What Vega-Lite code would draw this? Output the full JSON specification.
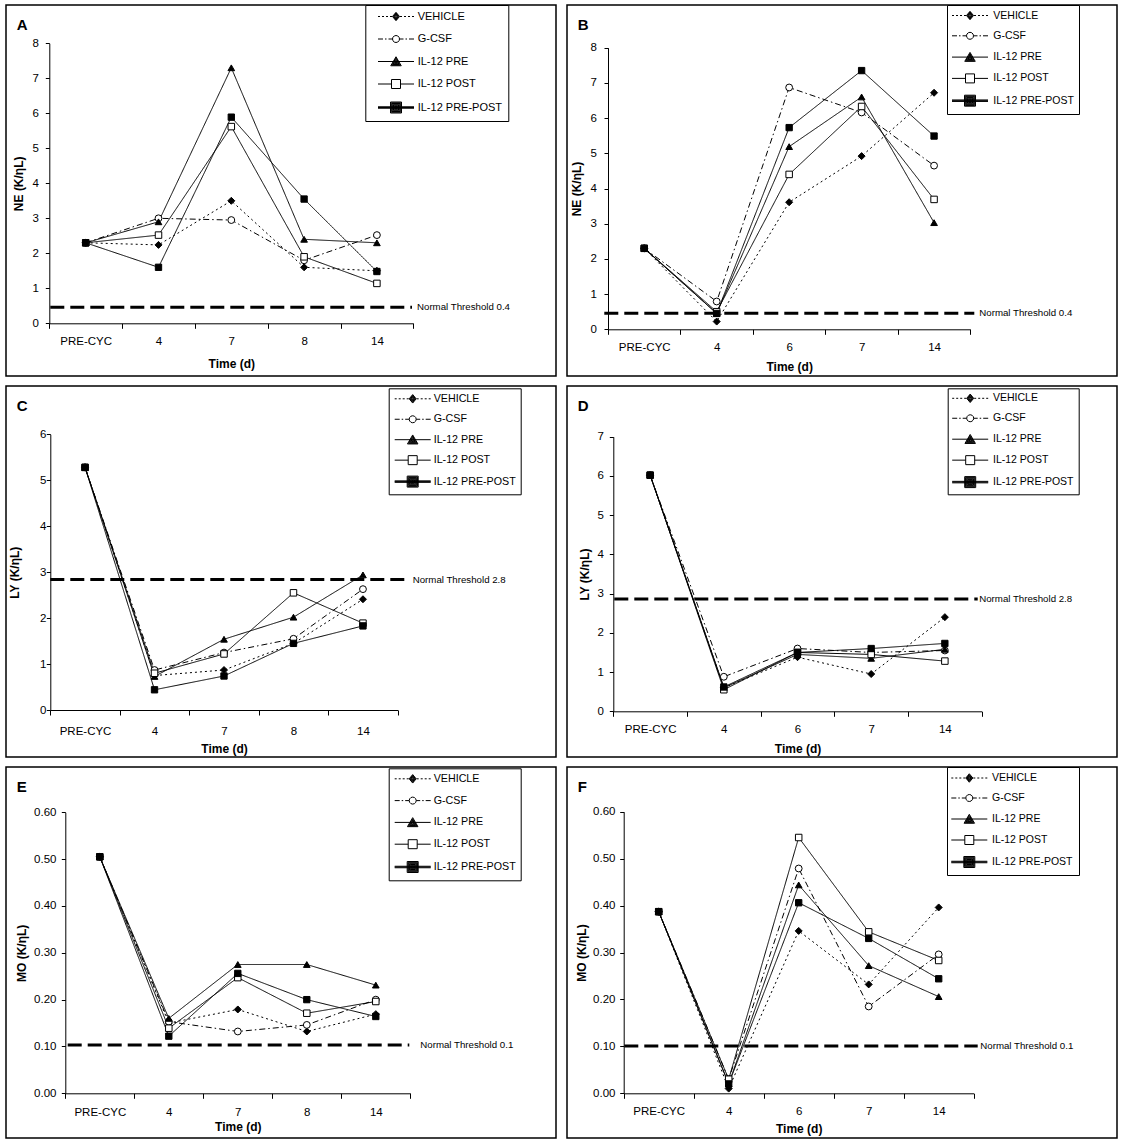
{
  "$schema": "https://vega.github.io/schema/vega-lite/v6.json",
  "background": "white",
  "padding": {"left": 5, "top": 3, "right": 5, "bottom": 5},
  "columns": 2,
  "spacing": {"row": 10, "column": 11},
  "bounds": "flush",
  "config": {
    "font": "Liberation Sans",
    "view": {"stroke": "black", "strokeWidth": 1.5},
    "axis": {"grid": false, "labelFont": "Liberation Sans", "labelFontSize": 11.5, "labelColor": "black", "tickColor": "black", "domainColor": "black", "titleFont": "Liberation Sans", "titleFontSize": 12, "titleFontWeight": "bold", "titleColor": "black", "domainWidth": 1, "tickWidth": 1},
    "legend": {"labelFont": "Liberation Sans", "labelColor": "black", "strokeColor": "black", "fillColor": "white", "symbolSize": 100, "symbolStrokeWidth": 1, "symbolOpacity": 1, "symbolFillColor": "transparent", "symbolStrokeColor": "black", "titleColor": "black"},
    "title": {"font": "Liberation Sans", "fontSize": 15, "fontWeight": "bold", "color": "black"}
  },
  "resolve": {
    "scale": {"strokeDash": "independent", "strokeWidth": "independent", "shape": "independent", "fill": "independent", "size": "independent"},
    "legend": {"strokeDash": "independent", "strokeWidth": "independent", "shape": "independent", "fill": "independent", "size": "independent"}
  },
  "datasets": {
    "A": [
      {"day": "PRE-CYC", "series": "VEHICLE", "value": 2.3}, {"day": "4", "series": "VEHICLE", "value": 2.24}, {"day": "7", "series": "VEHICLE", "value": 3.5}, {"day": "8", "series": "VEHICLE", "value": 1.6}, {"day": "14", "series": "VEHICLE", "value": 1.5},
      {"day": "PRE-CYC", "series": "G-CSF", "value": 2.3}, {"day": "4", "series": "G-CSF", "value": 3.0}, {"day": "7", "series": "G-CSF", "value": 2.95}, {"day": "8", "series": "G-CSF", "value": 1.8}, {"day": "14", "series": "G-CSF", "value": 2.52},
      {"day": "PRE-CYC", "series": "IL-12 PRE", "value": 2.3}, {"day": "4", "series": "IL-12 PRE", "value": 2.9}, {"day": "7", "series": "IL-12 PRE", "value": 7.3}, {"day": "8", "series": "IL-12 PRE", "value": 2.4}, {"day": "14", "series": "IL-12 PRE", "value": 2.3},
      {"day": "PRE-CYC", "series": "IL-12 POST", "value": 2.3}, {"day": "4", "series": "IL-12 POST", "value": 2.52}, {"day": "7", "series": "IL-12 POST", "value": 5.62}, {"day": "8", "series": "IL-12 POST", "value": 1.9}, {"day": "14", "series": "IL-12 POST", "value": 1.14},
      {"day": "PRE-CYC", "series": "IL-12 PRE-POST", "value": 2.3}, {"day": "4", "series": "IL-12 PRE-POST", "value": 1.6}, {"day": "7", "series": "IL-12 PRE-POST", "value": 5.89}, {"day": "8", "series": "IL-12 PRE-POST", "value": 3.55}, {"day": "14", "series": "IL-12 PRE-POST", "value": 1.48}
    ],
    "B": [
      {"day": "PRE-CYC", "series": "VEHICLE", "value": 2.3}, {"day": "4", "series": "VEHICLE", "value": 0.22}, {"day": "6", "series": "VEHICLE", "value": 3.61}, {"day": "7", "series": "VEHICLE", "value": 4.92}, {"day": "14", "series": "VEHICLE", "value": 6.72},
      {"day": "PRE-CYC", "series": "G-CSF", "value": 2.3}, {"day": "4", "series": "G-CSF", "value": 0.79}, {"day": "6", "series": "G-CSF", "value": 6.87}, {"day": "7", "series": "G-CSF", "value": 6.16}, {"day": "14", "series": "G-CSF", "value": 4.65},
      {"day": "PRE-CYC", "series": "IL-12 PRE", "value": 2.3}, {"day": "4", "series": "IL-12 PRE", "value": 0.45}, {"day": "6", "series": "IL-12 PRE", "value": 5.19}, {"day": "7", "series": "IL-12 PRE", "value": 6.6}, {"day": "14", "series": "IL-12 PRE", "value": 3.03},
      {"day": "PRE-CYC", "series": "IL-12 POST", "value": 2.3}, {"day": "4", "series": "IL-12 POST", "value": 0.5}, {"day": "6", "series": "IL-12 POST", "value": 4.4}, {"day": "7", "series": "IL-12 POST", "value": 6.33}, {"day": "14", "series": "IL-12 POST", "value": 3.69},
      {"day": "PRE-CYC", "series": "IL-12 PRE-POST", "value": 2.3}, {"day": "4", "series": "IL-12 PRE-POST", "value": 0.45}, {"day": "6", "series": "IL-12 PRE-POST", "value": 5.73}, {"day": "7", "series": "IL-12 PRE-POST", "value": 7.35}, {"day": "14", "series": "IL-12 PRE-POST", "value": 5.49}
    ],
    "C": [
      {"day": "PRE-CYC", "series": "VEHICLE", "value": 5.28}, {"day": "4", "series": "VEHICLE", "value": 0.75}, {"day": "7", "series": "VEHICLE", "value": 0.87}, {"day": "8", "series": "VEHICLE", "value": 1.45}, {"day": "14", "series": "VEHICLE", "value": 2.41},
      {"day": "PRE-CYC", "series": "G-CSF", "value": 5.28}, {"day": "4", "series": "G-CSF", "value": 0.87}, {"day": "7", "series": "G-CSF", "value": 1.25}, {"day": "8", "series": "G-CSF", "value": 1.55}, {"day": "14", "series": "G-CSF", "value": 2.63},
      {"day": "PRE-CYC", "series": "IL-12 PRE", "value": 5.28}, {"day": "4", "series": "IL-12 PRE", "value": 0.73}, {"day": "7", "series": "IL-12 PRE", "value": 1.54}, {"day": "8", "series": "IL-12 PRE", "value": 2.02}, {"day": "14", "series": "IL-12 PRE", "value": 2.94},
      {"day": "PRE-CYC", "series": "IL-12 POST", "value": 5.28}, {"day": "4", "series": "IL-12 POST", "value": 0.8}, {"day": "7", "series": "IL-12 POST", "value": 1.22}, {"day": "8", "series": "IL-12 POST", "value": 2.55}, {"day": "14", "series": "IL-12 POST", "value": 1.89},
      {"day": "PRE-CYC", "series": "IL-12 PRE-POST", "value": 5.28}, {"day": "4", "series": "IL-12 PRE-POST", "value": 0.44}, {"day": "7", "series": "IL-12 PRE-POST", "value": 0.74}, {"day": "8", "series": "IL-12 PRE-POST", "value": 1.45}, {"day": "14", "series": "IL-12 PRE-POST", "value": 1.83}
    ],
    "D": [
      {"day": "PRE-CYC", "series": "VEHICLE", "value": 6.02}, {"day": "4", "series": "VEHICLE", "value": 0.6}, {"day": "6", "series": "VEHICLE", "value": 1.38}, {"day": "7", "series": "VEHICLE", "value": 0.95}, {"day": "14", "series": "VEHICLE", "value": 2.4},
      {"day": "PRE-CYC", "series": "G-CSF", "value": 6.02}, {"day": "4", "series": "G-CSF", "value": 0.88}, {"day": "6", "series": "G-CSF", "value": 1.6}, {"day": "7", "series": "G-CSF", "value": 1.5}, {"day": "14", "series": "G-CSF", "value": 1.55},
      {"day": "PRE-CYC", "series": "IL-12 PRE", "value": 6.02}, {"day": "4", "series": "IL-12 PRE", "value": 0.6}, {"day": "6", "series": "IL-12 PRE", "value": 1.45}, {"day": "7", "series": "IL-12 PRE", "value": 1.35}, {"day": "14", "series": "IL-12 PRE", "value": 1.58},
      {"day": "PRE-CYC", "series": "IL-12 POST", "value": 6.02}, {"day": "4", "series": "IL-12 POST", "value": 0.55}, {"day": "6", "series": "IL-12 POST", "value": 1.5}, {"day": "7", "series": "IL-12 POST", "value": 1.45}, {"day": "14", "series": "IL-12 POST", "value": 1.28},
      {"day": "PRE-CYC", "series": "IL-12 PRE-POST", "value": 6.02}, {"day": "4", "series": "IL-12 PRE-POST", "value": 0.62}, {"day": "6", "series": "IL-12 PRE-POST", "value": 1.5}, {"day": "7", "series": "IL-12 PRE-POST", "value": 1.6}, {"day": "14", "series": "IL-12 PRE-POST", "value": 1.73}
    ],
    "E": [
      {"day": "PRE-CYC", "series": "VEHICLE", "value": 0.505}, {"day": "4", "series": "VEHICLE", "value": 0.15}, {"day": "7", "series": "VEHICLE", "value": 0.179}, {"day": "8", "series": "VEHICLE", "value": 0.132}, {"day": "14", "series": "VEHICLE", "value": 0.169},
      {"day": "PRE-CYC", "series": "G-CSF", "value": 0.505}, {"day": "4", "series": "G-CSF", "value": 0.153}, {"day": "7", "series": "G-CSF", "value": 0.132}, {"day": "8", "series": "G-CSF", "value": 0.146}, {"day": "14", "series": "G-CSF", "value": 0.2},
      {"day": "PRE-CYC", "series": "IL-12 PRE", "value": 0.505}, {"day": "4", "series": "IL-12 PRE", "value": 0.16}, {"day": "7", "series": "IL-12 PRE", "value": 0.275}, {"day": "8", "series": "IL-12 PRE", "value": 0.275}, {"day": "14", "series": "IL-12 PRE", "value": 0.231},
      {"day": "PRE-CYC", "series": "IL-12 POST", "value": 0.505}, {"day": "4", "series": "IL-12 POST", "value": 0.139}, {"day": "7", "series": "IL-12 POST", "value": 0.247}, {"day": "8", "series": "IL-12 POST", "value": 0.171}, {"day": "14", "series": "IL-12 POST", "value": 0.196},
      {"day": "PRE-CYC", "series": "IL-12 PRE-POST", "value": 0.505}, {"day": "4", "series": "IL-12 PRE-POST", "value": 0.122}, {"day": "7", "series": "IL-12 PRE-POST", "value": 0.256}, {"day": "8", "series": "IL-12 PRE-POST", "value": 0.2}, {"day": "14", "series": "IL-12 PRE-POST", "value": 0.164}
    ],
    "F": [
      {"day": "PRE-CYC", "series": "VEHICLE", "value": 0.387}, {"day": "4", "series": "VEHICLE", "value": 0.01}, {"day": "6", "series": "VEHICLE", "value": 0.346}, {"day": "7", "series": "VEHICLE", "value": 0.232}, {"day": "14", "series": "VEHICLE", "value": 0.396},
      {"day": "PRE-CYC", "series": "G-CSF", "value": 0.387}, {"day": "4", "series": "G-CSF", "value": 0.03}, {"day": "6", "series": "G-CSF", "value": 0.479}, {"day": "7", "series": "G-CSF", "value": 0.185}, {"day": "14", "series": "G-CSF", "value": 0.296},
      {"day": "PRE-CYC", "series": "IL-12 PRE", "value": 0.387}, {"day": "4", "series": "IL-12 PRE", "value": 0.02}, {"day": "6", "series": "IL-12 PRE", "value": 0.444}, {"day": "7", "series": "IL-12 PRE", "value": 0.272}, {"day": "14", "series": "IL-12 PRE", "value": 0.206},
      {"day": "PRE-CYC", "series": "IL-12 POST", "value": 0.387}, {"day": "4", "series": "IL-12 POST", "value": 0.03}, {"day": "6", "series": "IL-12 POST", "value": 0.545}, {"day": "7", "series": "IL-12 POST", "value": 0.344}, {"day": "14", "series": "IL-12 POST", "value": 0.283},
      {"day": "PRE-CYC", "series": "IL-12 PRE-POST", "value": 0.387}, {"day": "4", "series": "IL-12 PRE-POST", "value": 0.02}, {"day": "6", "series": "IL-12 PRE-POST", "value": 0.406}, {"day": "7", "series": "IL-12 PRE-POST", "value": 0.33}, {"day": "14", "series": "IL-12 PRE-POST", "value": 0.244}
    ],
    "tA": [{"threshold": 0.46, "label": "Normal Threshold 0.4"}],
    "tB": [{"threshold": 0.455, "label": "Normal Threshold 0.4"}],
    "tC": [{"threshold": 2.84, "label": "Normal Threshold 2.8"}],
    "tD": [{"threshold": 2.86, "label": "Normal Threshold 2.8"}],
    "tE": [{"threshold": 0.103, "label": "Normal Threshold 0.1"}],
    "tF": [{"threshold": 0.101, "label": "Normal Threshold 0.1"}]
  },
  "concat": [
    {
      "width": 550, "height": 371,
      "title": {"text": "A", "anchor": "start", "frame": "group", "baseline": "top", "offset": -28, "dx": 10.7},
      "resolve": {"scale": {"x": "independent", "shape": "independent"}},
      "layer": [
        {"data": {"name": "A"}, "mark": {"type": "line", "color": "black"},
         "encoding": {
           "x": {"field": "day", "type": "nominal", "sort": ["PRE-CYC", "4", "7", "8", "14"], "scale": {"range": [43.3, 407.3], "paddingInner": 0, "paddingOuter": 0}, "axis": {"title": "Time (d)", "labelAngle": 0, "tickBand": "extent", "tickSize": 5, "labelPadding": 7.5, "titlePadding": 10.8, "offset": -52.7}},
           "y": {"field": "value", "type": "quantitative", "scale": {"domain": [0, 8], "range": [318.3, 38.3], "nice": false, "zero": false}, "axis": {"title": "NE (K/ηL)", "values": [0, 1, 2, 3, 4, 5, 6, 7, 8], "format": "d", "tickSize": 4, "labelPadding": 7, "titlePadding": 6.8, "offset": -43.3}},
           "strokeDash": {"field": "series", "type": "nominal", "scale": {"domain": ["VEHICLE", "G-CSF", "IL-12 PRE", "IL-12 POST", "IL-12 PRE-POST"], "range": [[2, 3], [6, 3, 1.5, 3], [1, 0], [1, 0], [1, 0]]}, "legend": null},
           "strokeWidth": {"field": "series", "type": "nominal", "scale": {"domain": ["VEHICLE", "G-CSF", "IL-12 PRE", "IL-12 POST", "IL-12 PRE-POST"], "range": [1, 1, 1, 1, 2.5]}, "legend": null}
         }},
        {"data": {"name": "A"}, "mark": {"type": "point", "filled": true, "stroke": "black", "strokeWidth": 1, "opacity": 1},
         "encoding": {
           "x": {"field": "day", "type": "nominal", "sort": ["PRE-CYC", "4", "7", "8", "14"], "scale": {"range": [43.3, 407.3], "paddingInner": 0, "paddingOuter": 0}, "axis": null},
           "y": {"field": "value", "type": "quantitative"},
           "shape": {"field": "series", "type": "nominal", "scale": {"domain": ["VEHICLE", "G-CSF", "IL-12 PRE", "IL-12 POST", "IL-12 PRE-POST"], "range": ["diamond", "circle", "triangle-up", "square", "square"]}, "legend": null},
           "fill": {"field": "series", "type": "nominal", "scale": {"domain": ["VEHICLE", "G-CSF", "IL-12 PRE", "IL-12 POST", "IL-12 PRE-POST"], "range": ["black", "white", "black", "white", "black"]}, "legend": null},
           "size": {"field": "series", "type": "nominal", "scale": {"domain": ["VEHICLE", "G-CSF", "IL-12 PRE", "IL-12 POST", "IL-12 PRE-POST"], "range": [49, 40, 90, 81, 121]}, "legend": null}
         }},
        {"data": {"name": "tA"}, "mark": {"type": "rule", "color": "black", "strokeWidth": 3, "strokeDash": [14, 6]},
         "encoding": {
           "x": {"datum": 0, "type": "quantitative", "scale": {"domain": [0, 1], "range": [44.3, 406]}, "axis": null},
           "x2": {"datum": 1},
           "y": {"field": "threshold", "type": "quantitative"}
         }},
        {"data": {"name": "tA"}, "mark": {"type": "text", "align": "left", "baseline": "middle", "dx": 5, "fontSize": 9.7, "color": "black"},
         "encoding": {
           "x": {"datum": 1, "type": "quantitative", "scale": {"domain": [0, 1], "range": [44.3, 406]}, "axis": null},
           "y": {"field": "threshold", "type": "quantitative"},
           "text": {"field": "label"}
         }},
        {"data": {"name": "A"}, "mark": {"type": "point", "opacity": 0, "filled": false, "fill": "transparent", "stroke": "black", "strokeWidth": 1},
         "encoding": {
           "shape": {"field": "series", "type": "nominal", "scale": {"domain": ["VEHICLE", "G-CSF", "IL-12 PRE", "IL-12 POST", "IL-12 PRE-POST"], "range": [
             "M-3.6,0H-3.2M-2.8,0H-2.4M-2,0H-1.6M-1.2,0H-0.8M0.8,0H1.2M1.6,0H2M2.4,0H2.8M3.2,0H3.6M0,-0.85L0.7,0L0,0.85L-0.7,0ZM0,-0.7L0.57,0L0,0.7L-0.57,0ZM0,-0.54L0.45,0L0,0.54L-0.45,0ZM0,-0.39L0.32,0L0,0.39L-0.32,0ZM0,-0.24L0.2,0L0,0.24L-0.2,0ZM0,-0.1V0.1",
             "M-3.6,0H-2.6M-2.2,0H-1.9M-1.5,0H-0.7M0.7,0H1.5M1.9,0H2.2M2.6,0H3.6M0.7,0L0.61,0.35L0.35,0.61L0,0.7L-0.35,0.61L-0.61,0.35L-0.7,0L-0.61,-0.35L-0.35,-0.61L0,-0.7L0.35,-0.61L0.61,-0.35Z",
             "M-3.6,0H3.6M0,-0.95L1.05,0.85L-1.05,0.85ZM0,-0.71L0.84,0.73L-0.84,0.73ZM0,-0.47L0.63,0.61L-0.63,0.61ZM0,-0.23L0.42,0.49L-0.42,0.49ZM0,0.01L0.21,0.37L-0.21,0.37Z",
             "M-3.6,0H-0.9M0.9,0H3.6M-0.9,-0.9H0.9V0.9H-0.9Z",
             "M-3.6,-0.15H3.6M-3.6,0H3.6M-3.6,0.15H3.6M-1.1,-1.1H1.1V1.1H-1.1ZM-0.95,-0.95H0.95V0.95H-0.95ZM-0.8,-0.8H0.8V0.8H-0.8ZM-0.65,-0.65H0.65V0.65H-0.65ZM-0.5,-0.5H0.5V0.5H-0.5ZM-0.35,-0.35H0.35V0.35H-0.35ZM-0.2,-0.2H0.2V0.2H-0.2ZM-0.05,-0.05H0.05V0.05H-0.05Z"]},
             "legend": {"orient": "none", "legendX": 359.3, "legendY": 0, "direction": "vertical", "title": null, "padding": 6, "rowPadding": 9.5, "symbolOffset": 19.2, "labelOffset": 16.2, "labelFontSize": 11}}
         }}
      ]
    },
    {
      "width": 550, "height": 371,
      "title": {"text": "B", "anchor": "start", "frame": "group", "baseline": "top", "offset": -28, "dx": 10.7},
      "resolve": {"scale": {"x": "independent", "shape": "independent"}},
      "layer": [
        {"data": {"name": "B"}, "mark": {"type": "line", "color": "black"},
         "encoding": {
           "x": {"field": "day", "type": "nominal", "sort": ["PRE-CYC", "4", "6", "7", "14"], "scale": {"range": [41, 403.3], "paddingInner": 0, "paddingOuter": 0}, "axis": {"title": "Time (d)", "labelAngle": 0, "tickBand": "extent", "tickSize": 5, "labelPadding": 7.5, "titlePadding": 8.2, "offset": -46.7}},
           "y": {"field": "value", "type": "quantitative", "scale": {"domain": [0, 8], "range": [324.3, 42.7], "nice": false, "zero": false}, "axis": {"title": "NE (K/ηL)", "values": [0, 1, 2, 3, 4, 5, 6, 7, 8], "format": "d", "tickSize": 4, "labelPadding": 7.7, "titlePadding": 6.4, "offset": -41}},
           "strokeDash": {"field": "series", "type": "nominal", "scale": {"domain": ["VEHICLE", "G-CSF", "IL-12 PRE", "IL-12 POST", "IL-12 PRE-POST"], "range": [[2, 3], [6, 3, 1.5, 3], [1, 0], [1, 0], [1, 0]]}, "legend": null},
           "strokeWidth": {"field": "series", "type": "nominal", "scale": {"domain": ["VEHICLE", "G-CSF", "IL-12 PRE", "IL-12 POST", "IL-12 PRE-POST"], "range": [1, 1, 1, 1, 2.5]}, "legend": null}
         }},
        {"data": {"name": "B"}, "mark": {"type": "point", "filled": true, "stroke": "black", "strokeWidth": 1, "opacity": 1},
         "encoding": {
           "x": {"field": "day", "type": "nominal", "sort": ["PRE-CYC", "4", "6", "7", "14"], "scale": {"range": [41, 403.3], "paddingInner": 0, "paddingOuter": 0}, "axis": null},
           "y": {"field": "value", "type": "quantitative"},
           "shape": {"field": "series", "type": "nominal", "scale": {"domain": ["VEHICLE", "G-CSF", "IL-12 PRE", "IL-12 POST", "IL-12 PRE-POST"], "range": ["diamond", "circle", "triangle-up", "square", "square"]}, "legend": null},
           "fill": {"field": "series", "type": "nominal", "scale": {"domain": ["VEHICLE", "G-CSF", "IL-12 PRE", "IL-12 POST", "IL-12 PRE-POST"], "range": ["black", "white", "black", "white", "black"]}, "legend": null},
           "size": {"field": "series", "type": "nominal", "scale": {"domain": ["VEHICLE", "G-CSF", "IL-12 PRE", "IL-12 POST", "IL-12 PRE-POST"], "range": [49, 40, 90, 81, 121]}, "legend": null}
         }},
        {"data": {"name": "tB"}, "mark": {"type": "rule", "color": "black", "strokeWidth": 3, "strokeDash": [14, 6]},
         "encoding": {
           "x": {"datum": 0, "type": "quantitative", "scale": {"domain": [0, 1], "range": [37.3, 407.3]}, "axis": null},
           "x2": {"datum": 1},
           "y": {"field": "threshold", "type": "quantitative"}
         }},
        {"data": {"name": "tB"}, "mark": {"type": "text", "align": "left", "baseline": "middle", "dx": 5, "fontSize": 9.7, "color": "black"},
         "encoding": {
           "x": {"datum": 1, "type": "quantitative", "scale": {"domain": [0, 1], "range": [37.3, 407.3]}, "axis": null},
           "y": {"field": "threshold", "type": "quantitative"},
           "text": {"field": "label"}
         }},
        {"data": {"name": "B"}, "mark": {"type": "point", "opacity": 0, "filled": false, "fill": "transparent", "stroke": "black", "strokeWidth": 1},
         "encoding": {
           "shape": {"field": "series", "type": "nominal", "scale": {"domain": ["VEHICLE", "G-CSF", "IL-12 PRE", "IL-12 POST", "IL-12 PRE-POST"], "range": [
             "M-3.6,0H-3.2M-2.8,0H-2.4M-2,0H-1.6M-1.2,0H-0.8M0.8,0H1.2M1.6,0H2M2.4,0H2.8M3.2,0H3.6M0,-0.85L0.7,0L0,0.85L-0.7,0ZM0,-0.7L0.57,0L0,0.7L-0.57,0ZM0,-0.54L0.45,0L0,0.54L-0.45,0ZM0,-0.39L0.32,0L0,0.39L-0.32,0ZM0,-0.24L0.2,0L0,0.24L-0.2,0ZM0,-0.1V0.1",
             "M-3.6,0H-2.6M-2.2,0H-1.9M-1.5,0H-0.7M0.7,0H1.5M1.9,0H2.2M2.6,0H3.6M0.7,0L0.61,0.35L0.35,0.61L0,0.7L-0.35,0.61L-0.61,0.35L-0.7,0L-0.61,-0.35L-0.35,-0.61L0,-0.7L0.35,-0.61L0.61,-0.35Z",
             "M-3.6,0H3.6M0,-0.95L1.05,0.85L-1.05,0.85ZM0,-0.71L0.84,0.73L-0.84,0.73ZM0,-0.47L0.63,0.61L-0.63,0.61ZM0,-0.23L0.42,0.49L-0.42,0.49ZM0,0.01L0.21,0.37L-0.21,0.37Z",
             "M-3.6,0H-0.9M0.9,0H3.6M-0.9,-0.9H0.9V0.9H-0.9Z",
             "M-3.6,-0.15H3.6M-3.6,0H3.6M-3.6,0.15H3.6M-1.1,-1.1H1.1V1.1H-1.1ZM-0.95,-0.95H0.95V0.95H-0.95ZM-0.8,-0.8H0.8V0.8H-0.8ZM-0.65,-0.65H0.65V0.65H-0.65ZM-0.5,-0.5H0.5V0.5H-0.5ZM-0.35,-0.35H0.35V0.35H-0.35ZM-0.2,-0.2H0.2V0.2H-0.2ZM-0.05,-0.05H0.05V0.05H-0.05Z"]},
             "legend": {"orient": "none", "legendX": 380, "legendY": 0, "direction": "vertical", "title": null, "padding": 5, "rowPadding": 8.3, "symbolOffset": 12.5, "labelOffset": 17.8, "labelFontSize": 10.5}}
         }}
      ]
    },
    {
      "width": 550, "height": 371,
      "title": {"text": "C", "anchor": "start", "frame": "group", "baseline": "top", "offset": -28, "dx": 10.7},
      "resolve": {"scale": {"x": "independent", "shape": "independent"}},
      "layer": [
        {"data": {"name": "C"}, "mark": {"type": "line", "color": "black"},
         "encoding": {
           "x": {"field": "day", "type": "nominal", "sort": ["PRE-CYC", "4", "7", "8", "14"], "scale": {"range": [44.3, 391.7], "paddingInner": 0, "paddingOuter": 0}, "axis": {"title": "Time (d)", "labelAngle": 0, "tickBand": "extent", "tickSize": 5, "labelPadding": 10, "titlePadding": 6.5, "offset": -47}},
           "y": {"field": "value", "type": "quantitative", "scale": {"domain": [0, 6], "range": [324, 48.3], "nice": false, "zero": false}, "axis": {"title": "LY (K/ηL)", "values": [0, 1, 2, 3, 4, 5, 6], "format": "d", "tickSize": 4, "labelPadding": 0.5, "titlePadding": 17.5, "offset": -44.3}},
           "strokeDash": {"field": "series", "type": "nominal", "scale": {"domain": ["VEHICLE", "G-CSF", "IL-12 PRE", "IL-12 POST", "IL-12 PRE-POST"], "range": [[2, 3], [6, 3, 1.5, 3], [1, 0], [1, 0], [1, 0]]}, "legend": null},
           "strokeWidth": {"field": "series", "type": "nominal", "scale": {"domain": ["VEHICLE", "G-CSF", "IL-12 PRE", "IL-12 POST", "IL-12 PRE-POST"], "range": [1, 1, 1, 1, 2.5]}, "legend": null}
         }},
        {"data": {"name": "C"}, "mark": {"type": "point", "filled": true, "stroke": "black", "strokeWidth": 1, "opacity": 1},
         "encoding": {
           "x": {"field": "day", "type": "nominal", "sort": ["PRE-CYC", "4", "7", "8", "14"], "scale": {"range": [44.3, 391.7], "paddingInner": 0, "paddingOuter": 0}, "axis": null},
           "y": {"field": "value", "type": "quantitative"},
           "shape": {"field": "series", "type": "nominal", "scale": {"domain": ["VEHICLE", "G-CSF", "IL-12 PRE", "IL-12 POST", "IL-12 PRE-POST"], "range": ["diamond", "circle", "triangle-up", "square", "square"]}, "legend": null},
           "fill": {"field": "series", "type": "nominal", "scale": {"domain": ["VEHICLE", "G-CSF", "IL-12 PRE", "IL-12 POST", "IL-12 PRE-POST"], "range": ["black", "white", "black", "white", "black"]}, "legend": null},
           "size": {"field": "series", "type": "nominal", "scale": {"domain": ["VEHICLE", "G-CSF", "IL-12 PRE", "IL-12 POST", "IL-12 PRE-POST"], "range": [49, 40, 90, 81, 121]}, "legend": null}
         }},
        {"data": {"name": "tC"}, "mark": {"type": "rule", "color": "black", "strokeWidth": 3, "strokeDash": [14, 6]},
         "encoding": {
           "x": {"datum": 0, "type": "quantitative", "scale": {"domain": [0, 1], "range": [44.3, 400]}, "axis": null},
           "x2": {"datum": 1},
           "y": {"field": "threshold", "type": "quantitative"}
         }},
        {"data": {"name": "tC"}, "mark": {"type": "text", "align": "left", "baseline": "middle", "dx": 6.7, "fontSize": 9.7, "color": "black"},
         "encoding": {
           "x": {"datum": 1, "type": "quantitative", "scale": {"domain": [0, 1], "range": [44.3, 400]}, "axis": null},
           "y": {"field": "threshold", "type": "quantitative"},
           "text": {"field": "label"}
         }},
        {"data": {"name": "C"}, "mark": {"type": "point", "opacity": 0, "filled": false, "fill": "transparent", "stroke": "black", "strokeWidth": 1},
         "encoding": {
           "shape": {"field": "series", "type": "nominal", "scale": {"domain": ["VEHICLE", "G-CSF", "IL-12 PRE", "IL-12 POST", "IL-12 PRE-POST"], "range": [
             "M-3.6,0H-3.2M-2.8,0H-2.4M-2,0H-1.6M-1.2,0H-0.8M0.8,0H1.2M1.6,0H2M2.4,0H2.8M3.2,0H3.6M0,-0.85L0.7,0L0,0.85L-0.7,0ZM0,-0.7L0.57,0L0,0.7L-0.57,0ZM0,-0.54L0.45,0L0,0.54L-0.45,0ZM0,-0.39L0.32,0L0,0.39L-0.32,0ZM0,-0.24L0.2,0L0,0.24L-0.2,0ZM0,-0.1V0.1",
             "M-3.6,0H-2.6M-2.2,0H-1.9M-1.5,0H-0.7M0.7,0H1.5M1.9,0H2.2M2.6,0H3.6M0.7,0L0.61,0.35L0.35,0.61L0,0.7L-0.35,0.61L-0.61,0.35L-0.7,0L-0.61,-0.35L-0.35,-0.61L0,-0.7L0.35,-0.61L0.61,-0.35Z",
             "M-3.6,0H3.6M0,-0.95L1.05,0.85L-1.05,0.85ZM0,-0.71L0.84,0.73L-0.84,0.73ZM0,-0.47L0.63,0.61L-0.63,0.61ZM0,-0.23L0.42,0.49L-0.42,0.49ZM0,0.01L0.21,0.37L-0.21,0.37Z",
             "M-3.6,0H-0.9M0.9,0H3.6M-0.9,-0.9H0.9V0.9H-0.9Z",
             "M-3.6,-0.15H3.6M-3.6,0H3.6M-3.6,0.15H3.6M-1.1,-1.1H1.1V1.1H-1.1ZM-0.95,-0.95H0.95V0.95H-0.95ZM-0.8,-0.8H0.8V0.8H-0.8ZM-0.65,-0.65H0.65V0.65H-0.65ZM-0.5,-0.5H0.5V0.5H-0.5ZM-0.35,-0.35H0.35V0.35H-0.35ZM-0.2,-0.2H0.2V0.2H-0.2ZM-0.05,-0.05H0.05V0.05H-0.05Z"]},
             "legend": {"orient": "none", "legendX": 382.7, "legendY": 2.3, "direction": "vertical", "title": null, "padding": 5, "rowPadding": 7.45, "symbolOffset": 13.5, "labelOffset": 15.5, "labelFontSize": 10.7}}
         }}
      ]
    },
    {
      "width": 550, "height": 371,
      "title": {"text": "D", "anchor": "start", "frame": "group", "baseline": "top", "offset": -28, "dx": 10.7},
      "resolve": {"scale": {"x": "independent", "shape": "independent"}},
      "layer": [
        {"data": {"name": "D"}, "mark": {"type": "line", "color": "black"},
         "encoding": {
           "x": {"field": "day", "type": "nominal", "sort": ["PRE-CYC", "4", "6", "7", "14"], "scale": {"range": [46.3, 414.7], "paddingInner": 0, "paddingOuter": 0}, "axis": {"title": "Time (d)", "labelAngle": 0, "tickBand": "extent", "tickSize": 5, "labelPadding": 7.1, "titlePadding": 8.2, "offset": -45.7}},
           "y": {"field": "value", "type": "quantitative", "scale": {"domain": [0, 7], "range": [325.3, 50.7], "nice": false, "zero": false}, "axis": {"title": "LY (K/ηL)", "values": [0, 1, 2, 3, 4, 5, 6, 7], "format": "d", "tickSize": 4, "labelPadding": 6, "titlePadding": 5.8, "offset": -46.3}},
           "strokeDash": {"field": "series", "type": "nominal", "scale": {"domain": ["VEHICLE", "G-CSF", "IL-12 PRE", "IL-12 POST", "IL-12 PRE-POST"], "range": [[2, 3], [6, 3, 1.5, 3], [1, 0], [1, 0], [1, 0]]}, "legend": null},
           "strokeWidth": {"field": "series", "type": "nominal", "scale": {"domain": ["VEHICLE", "G-CSF", "IL-12 PRE", "IL-12 POST", "IL-12 PRE-POST"], "range": [1, 1, 1, 1, 2.5]}, "legend": null}
         }},
        {"data": {"name": "D"}, "mark": {"type": "point", "filled": true, "stroke": "black", "strokeWidth": 1, "opacity": 1},
         "encoding": {
           "x": {"field": "day", "type": "nominal", "sort": ["PRE-CYC", "4", "6", "7", "14"], "scale": {"range": [46.3, 414.7], "paddingInner": 0, "paddingOuter": 0}, "axis": null},
           "y": {"field": "value", "type": "quantitative"},
           "shape": {"field": "series", "type": "nominal", "scale": {"domain": ["VEHICLE", "G-CSF", "IL-12 PRE", "IL-12 POST", "IL-12 PRE-POST"], "range": ["diamond", "circle", "triangle-up", "square", "square"]}, "legend": null},
           "fill": {"field": "series", "type": "nominal", "scale": {"domain": ["VEHICLE", "G-CSF", "IL-12 PRE", "IL-12 POST", "IL-12 PRE-POST"], "range": ["black", "white", "black", "white", "black"]}, "legend": null},
           "size": {"field": "series", "type": "nominal", "scale": {"domain": ["VEHICLE", "G-CSF", "IL-12 PRE", "IL-12 POST", "IL-12 PRE-POST"], "range": [49, 40, 90, 81, 121]}, "legend": null}
         }},
        {"data": {"name": "tD"}, "mark": {"type": "rule", "color": "black", "strokeWidth": 3, "strokeDash": [14, 6]},
         "encoding": {
           "x": {"datum": 0, "type": "quantitative", "scale": {"domain": [0, 1], "range": [47.3, 410.7]}, "axis": null},
           "x2": {"datum": 1},
           "y": {"field": "threshold", "type": "quantitative"}
         }},
        {"data": {"name": "tD"}, "mark": {"type": "text", "align": "left", "baseline": "middle", "dx": 1.5, "fontSize": 9.7, "color": "black"},
         "encoding": {
           "x": {"datum": 1, "type": "quantitative", "scale": {"domain": [0, 1], "range": [47.3, 410.7]}, "axis": null},
           "y": {"field": "threshold", "type": "quantitative"},
           "text": {"field": "label"}
         }},
        {"data": {"name": "D"}, "mark": {"type": "point", "opacity": 0, "filled": false, "fill": "transparent", "stroke": "black", "strokeWidth": 1},
         "encoding": {
           "shape": {"field": "series", "type": "nominal", "scale": {"domain": ["VEHICLE", "G-CSF", "IL-12 PRE", "IL-12 POST", "IL-12 PRE-POST"], "range": [
             "M-3.6,0H-3.2M-2.8,0H-2.4M-2,0H-1.6M-1.2,0H-0.8M0.8,0H1.2M1.6,0H2M2.4,0H2.8M3.2,0H3.6M0,-0.85L0.7,0L0,0.85L-0.7,0ZM0,-0.7L0.57,0L0,0.7L-0.57,0ZM0,-0.54L0.45,0L0,0.54L-0.45,0ZM0,-0.39L0.32,0L0,0.39L-0.32,0ZM0,-0.24L0.2,0L0,0.24L-0.2,0ZM0,-0.1V0.1",
             "M-3.6,0H-2.6M-2.2,0H-1.9M-1.5,0H-0.7M0.7,0H1.5M1.9,0H2.2M2.6,0H3.6M0.7,0L0.61,0.35L0.35,0.61L0,0.7L-0.35,0.61L-0.61,0.35L-0.7,0L-0.61,-0.35L-0.35,-0.61L0,-0.7L0.35,-0.61L0.61,-0.35Z",
             "M-3.6,0H3.6M0,-0.95L1.05,0.85L-1.05,0.85ZM0,-0.71L0.84,0.73L-0.84,0.73ZM0,-0.47L0.63,0.61L-0.63,0.61ZM0,-0.23L0.42,0.49L-0.42,0.49ZM0,0.01L0.21,0.37L-0.21,0.37Z",
             "M-3.6,0H-0.9M0.9,0H3.6M-0.9,-0.9H0.9V0.9H-0.9Z",
             "M-3.6,-0.15H3.6M-3.6,0H3.6M-3.6,0.15H3.6M-1.1,-1.1H1.1V1.1H-1.1ZM-0.95,-0.95H0.95V0.95H-0.95ZM-0.8,-0.8H0.8V0.8H-0.8ZM-0.65,-0.65H0.65V0.65H-0.65ZM-0.5,-0.5H0.5V0.5H-0.5ZM-0.35,-0.35H0.35V0.35H-0.35ZM-0.2,-0.2H0.2V0.2H-0.2ZM-0.05,-0.05H0.05V0.05H-0.05Z"]},
             "legend": {"orient": "none", "legendX": 380.7, "legendY": 2.3, "direction": "vertical", "title": null, "padding": 4.5, "rowPadding": 7.95, "symbolOffset": 12.5, "labelOffset": 17.3, "labelFontSize": 10.5}}
         }}
      ]
    },
    {
      "width": 550, "height": 371,
      "title": {"text": "E", "anchor": "start", "frame": "group", "baseline": "top", "offset": -28, "dx": 10.7},
      "resolve": {"scale": {"x": "independent", "shape": "independent"}},
      "layer": [
        {"data": {"name": "E"}, "mark": {"type": "line", "color": "black"},
         "encoding": {
           "x": {"field": "day", "type": "nominal", "sort": ["PRE-CYC", "4", "7", "8", "14"], "scale": {"range": [59.3, 404.3], "paddingInner": 0, "paddingOuter": 0}, "axis": {"title": "Time (d)", "labelAngle": 0, "tickBand": "extent", "tickSize": 5, "labelPadding": 8.4, "titlePadding": 3.3, "offset": -44.7}},
           "y": {"field": "value", "type": "quantitative", "scale": {"domain": [0, 0.6], "range": [326.3, 45.3], "nice": false, "zero": false}, "axis": {"title": "MO (K/ηL)", "values": [0, 0.1, 0.2, 0.3, 0.4, 0.5, 0.6], "format": ".2f", "tickSize": 4, "labelPadding": 5.3, "titlePadding": 4.8, "offset": -59.3}},
           "strokeDash": {"field": "series", "type": "nominal", "scale": {"domain": ["VEHICLE", "G-CSF", "IL-12 PRE", "IL-12 POST", "IL-12 PRE-POST"], "range": [[2, 3], [6, 3, 1.5, 3], [1, 0], [1, 0], [1, 0]]}, "legend": null},
           "strokeWidth": {"field": "series", "type": "nominal", "scale": {"domain": ["VEHICLE", "G-CSF", "IL-12 PRE", "IL-12 POST", "IL-12 PRE-POST"], "range": [1, 1, 1, 1, 2.5]}, "legend": null}
         }},
        {"data": {"name": "E"}, "mark": {"type": "point", "filled": true, "stroke": "black", "strokeWidth": 1, "opacity": 1},
         "encoding": {
           "x": {"field": "day", "type": "nominal", "sort": ["PRE-CYC", "4", "7", "8", "14"], "scale": {"range": [59.3, 404.3], "paddingInner": 0, "paddingOuter": 0}, "axis": null},
           "y": {"field": "value", "type": "quantitative"},
           "shape": {"field": "series", "type": "nominal", "scale": {"domain": ["VEHICLE", "G-CSF", "IL-12 PRE", "IL-12 POST", "IL-12 PRE-POST"], "range": ["diamond", "circle", "triangle-up", "square", "square"]}, "legend": null},
           "fill": {"field": "series", "type": "nominal", "scale": {"domain": ["VEHICLE", "G-CSF", "IL-12 PRE", "IL-12 POST", "IL-12 PRE-POST"], "range": ["black", "white", "black", "white", "black"]}, "legend": null},
           "size": {"field": "series", "type": "nominal", "scale": {"domain": ["VEHICLE", "G-CSF", "IL-12 PRE", "IL-12 POST", "IL-12 PRE-POST"], "range": [49, 40, 90, 81, 121]}, "legend": null}
         }},
        {"data": {"name": "tE"}, "mark": {"type": "rule", "color": "black", "strokeWidth": 3, "strokeDash": [14, 6]},
         "encoding": {
           "x": {"datum": 0, "type": "quantitative", "scale": {"domain": [0, 1], "range": [61.7, 403.3]}, "axis": null},
           "x2": {"datum": 1},
           "y": {"field": "threshold", "type": "quantitative"}
         }},
        {"data": {"name": "tE"}, "mark": {"type": "text", "align": "left", "baseline": "middle", "dx": 11, "fontSize": 9.7, "color": "black"},
         "encoding": {
           "x": {"datum": 1, "type": "quantitative", "scale": {"domain": [0, 1], "range": [61.7, 403.3]}, "axis": null},
           "y": {"field": "threshold", "type": "quantitative"},
           "text": {"field": "label"}
         }},
        {"data": {"name": "E"}, "mark": {"type": "point", "opacity": 0, "filled": false, "fill": "transparent", "stroke": "black", "strokeWidth": 1},
         "encoding": {
           "shape": {"field": "series", "type": "nominal", "scale": {"domain": ["VEHICLE", "G-CSF", "IL-12 PRE", "IL-12 POST", "IL-12 PRE-POST"], "range": [
             "M-3.6,0H-3.2M-2.8,0H-2.4M-2,0H-1.6M-1.2,0H-0.8M0.8,0H1.2M1.6,0H2M2.4,0H2.8M3.2,0H3.6M0,-0.85L0.7,0L0,0.85L-0.7,0ZM0,-0.7L0.57,0L0,0.7L-0.57,0ZM0,-0.54L0.45,0L0,0.54L-0.45,0ZM0,-0.39L0.32,0L0,0.39L-0.32,0ZM0,-0.24L0.2,0L0,0.24L-0.2,0ZM0,-0.1V0.1",
             "M-3.6,0H-2.6M-2.2,0H-1.9M-1.5,0H-0.7M0.7,0H1.5M1.9,0H2.2M2.6,0H3.6M0.7,0L0.61,0.35L0.35,0.61L0,0.7L-0.35,0.61L-0.61,0.35L-0.7,0L-0.61,-0.35L-0.35,-0.61L0,-0.7L0.35,-0.61L0.61,-0.35Z",
             "M-3.6,0H3.6M0,-0.95L1.05,0.85L-1.05,0.85ZM0,-0.71L0.84,0.73L-0.84,0.73ZM0,-0.47L0.63,0.61L-0.63,0.61ZM0,-0.23L0.42,0.49L-0.42,0.49ZM0,0.01L0.21,0.37L-0.21,0.37Z",
             "M-3.6,0H-0.9M0.9,0H3.6M-0.9,-0.9H0.9V0.9H-0.9Z",
             "M-3.6,-0.15H3.6M-3.6,0H3.6M-3.6,0.15H3.6M-1.1,-1.1H1.1V1.1H-1.1ZM-0.95,-0.95H0.95V0.95H-0.95ZM-0.8,-0.8H0.8V0.8H-0.8ZM-0.65,-0.65H0.65V0.65H-0.65ZM-0.5,-0.5H0.5V0.5H-0.5ZM-0.35,-0.35H0.35V0.35H-0.35ZM-0.2,-0.2H0.2V0.2H-0.2ZM-0.05,-0.05H0.05V0.05H-0.05Z"]},
             "legend": {"orient": "none", "legendX": 382.7, "legendY": 1.3, "direction": "vertical", "title": null, "padding": 5, "rowPadding": 8.8, "symbolOffset": 13.5, "labelOffset": 15.5, "labelFontSize": 10.7}}
         }}
      ]
    },
    {
      "width": 550, "height": 371,
      "title": {"text": "F", "anchor": "start", "frame": "group", "baseline": "top", "offset": -28, "dx": 10.7},
      "resolve": {"scale": {"x": "independent", "shape": "independent"}},
      "layer": [
        {"data": {"name": "F"}, "mark": {"type": "line", "color": "black"},
         "encoding": {
           "x": {"field": "day", "type": "nominal", "sort": ["PRE-CYC", "4", "6", "7", "14"], "scale": {"range": [56.7, 406.7], "paddingInner": 0, "paddingOuter": 0}, "axis": {"title": "Time (d)", "labelAngle": 0, "tickBand": "extent", "tickSize": 5, "labelPadding": 7.4, "titlePadding": 5.9, "offset": -44.7}},
           "y": {"field": "value", "type": "quantitative", "scale": {"domain": [0, 0.6], "range": [326.3, 44.7], "nice": false, "zero": false}, "axis": {"title": "MO (K/ηL)", "values": [0, 0.1, 0.2, 0.3, 0.4, 0.5, 0.6], "format": ".2f", "tickSize": 4, "labelPadding": 4.7, "titlePadding": 4.5, "offset": -56.7}},
           "strokeDash": {"field": "series", "type": "nominal", "scale": {"domain": ["VEHICLE", "G-CSF", "IL-12 PRE", "IL-12 POST", "IL-12 PRE-POST"], "range": [[2, 3], [6, 3, 1.5, 3], [1, 0], [1, 0], [1, 0]]}, "legend": null},
           "strokeWidth": {"field": "series", "type": "nominal", "scale": {"domain": ["VEHICLE", "G-CSF", "IL-12 PRE", "IL-12 POST", "IL-12 PRE-POST"], "range": [1, 1, 1, 1, 2.5]}, "legend": null}
         }},
        {"data": {"name": "F"}, "mark": {"type": "point", "filled": true, "stroke": "black", "strokeWidth": 1, "opacity": 1},
         "encoding": {
           "x": {"field": "day", "type": "nominal", "sort": ["PRE-CYC", "4", "6", "7", "14"], "scale": {"range": [56.7, 406.7], "paddingInner": 0, "paddingOuter": 0}, "axis": null},
           "y": {"field": "value", "type": "quantitative"},
           "shape": {"field": "series", "type": "nominal", "scale": {"domain": ["VEHICLE", "G-CSF", "IL-12 PRE", "IL-12 POST", "IL-12 PRE-POST"], "range": ["diamond", "circle", "triangle-up", "square", "square"]}, "legend": null},
           "fill": {"field": "series", "type": "nominal", "scale": {"domain": ["VEHICLE", "G-CSF", "IL-12 PRE", "IL-12 POST", "IL-12 PRE-POST"], "range": ["black", "white", "black", "white", "black"]}, "legend": null},
           "size": {"field": "series", "type": "nominal", "scale": {"domain": ["VEHICLE", "G-CSF", "IL-12 PRE", "IL-12 POST", "IL-12 PRE-POST"], "range": [49, 40, 90, 81, 121]}, "legend": null}
         }},
        {"data": {"name": "tF"}, "mark": {"type": "rule", "color": "black", "strokeWidth": 3, "strokeDash": [14, 6]},
         "encoding": {
           "x": {"datum": 0, "type": "quantitative", "scale": {"domain": [0, 1], "range": [57.3, 410.7]}, "axis": null},
           "x2": {"datum": 1},
           "y": {"field": "threshold", "type": "quantitative"}
         }},
        {"data": {"name": "tF"}, "mark": {"type": "text", "align": "left", "baseline": "middle", "dx": 2.6, "fontSize": 9.7, "color": "black"},
         "encoding": {
           "x": {"datum": 1, "type": "quantitative", "scale": {"domain": [0, 1], "range": [57.3, 410.7]}, "axis": null},
           "y": {"field": "threshold", "type": "quantitative"},
           "text": {"field": "label"}
         }},
        {"data": {"name": "F"}, "mark": {"type": "point", "opacity": 0, "filled": false, "fill": "transparent", "stroke": "black", "strokeWidth": 1},
         "encoding": {
           "shape": {"field": "series", "type": "nominal", "scale": {"domain": ["VEHICLE", "G-CSF", "IL-12 PRE", "IL-12 POST", "IL-12 PRE-POST"], "range": [
             "M-3.6,0H-3.2M-2.8,0H-2.4M-2,0H-1.6M-1.2,0H-0.8M0.8,0H1.2M1.6,0H2M2.4,0H2.8M3.2,0H3.6M0,-0.85L0.7,0L0,0.85L-0.7,0ZM0,-0.7L0.57,0L0,0.7L-0.57,0ZM0,-0.54L0.45,0L0,0.54L-0.45,0ZM0,-0.39L0.32,0L0,0.39L-0.32,0ZM0,-0.24L0.2,0L0,0.24L-0.2,0ZM0,-0.1V0.1",
             "M-3.6,0H-2.6M-2.2,0H-1.9M-1.5,0H-0.7M0.7,0H1.5M1.9,0H2.2M2.6,0H3.6M0.7,0L0.61,0.35L0.35,0.61L0,0.7L-0.35,0.61L-0.61,0.35L-0.7,0L-0.61,-0.35L-0.35,-0.61L0,-0.7L0.35,-0.61L0.61,-0.35Z",
             "M-3.6,0H3.6M0,-0.95L1.05,0.85L-1.05,0.85ZM0,-0.71L0.84,0.73L-0.84,0.73ZM0,-0.47L0.63,0.61L-0.63,0.61ZM0,-0.23L0.42,0.49L-0.42,0.49ZM0,0.01L0.21,0.37L-0.21,0.37Z",
             "M-3.6,0H-0.9M0.9,0H3.6M-0.9,-0.9H0.9V0.9H-0.9Z",
             "M-3.6,-0.15H3.6M-3.6,0H3.6M-3.6,0.15H3.6M-1.1,-1.1H1.1V1.1H-1.1ZM-0.95,-0.95H0.95V0.95H-0.95ZM-0.8,-0.8H0.8V0.8H-0.8ZM-0.65,-0.65H0.65V0.65H-0.65ZM-0.5,-0.5H0.5V0.5H-0.5ZM-0.35,-0.35H0.35V0.35H-0.35ZM-0.2,-0.2H0.2V0.2H-0.2ZM-0.05,-0.05H0.05V0.05H-0.05Z"]},
             "legend": {"orient": "none", "legendX": 380, "legendY": 0, "direction": "vertical", "title": null, "padding": 5.5, "rowPadding": 8, "symbolOffset": 11.3, "labelOffset": 17.2, "labelFontSize": 10.5}}
         }}
      ]
    }
  ]
}
